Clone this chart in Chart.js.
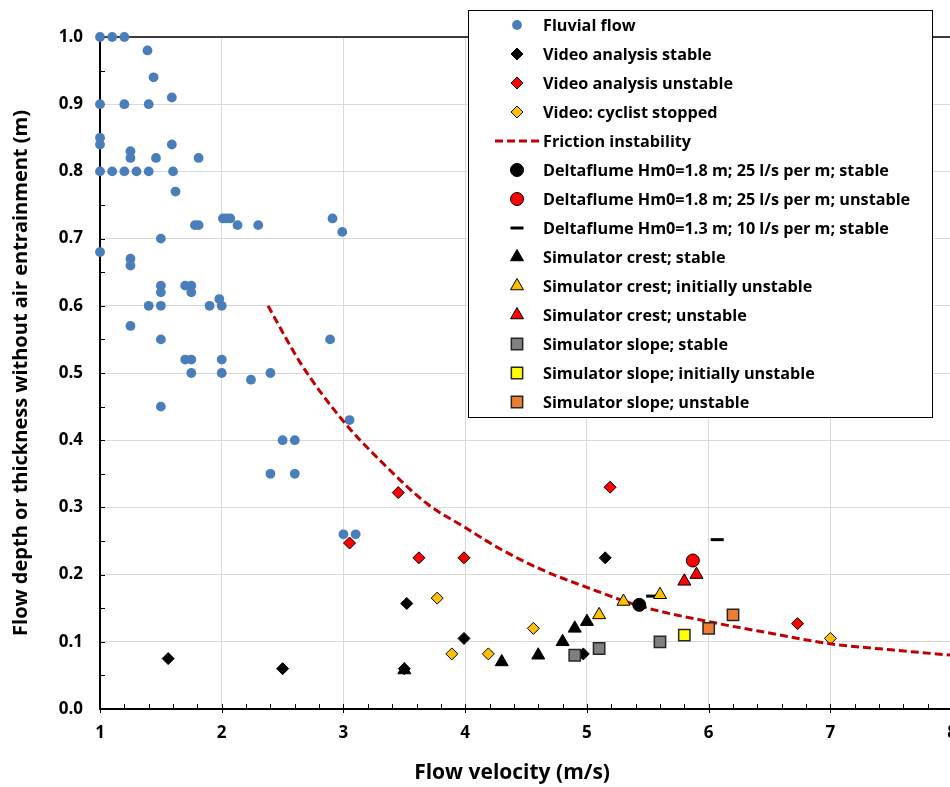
<!DOCTYPE html>
<html>
<head>
<meta charset="utf-8">
<script src="https://cdn.jsdelivr.net/npm/chart.js@4.4.1/dist/chart.umd.min.js"></script>
<style>
  html, body { margin: 0; padding: 0; overflow: hidden; background: #fff; }
  #wrap { width: 971px; height: 787px; }
</style>
</head>
<body>
<div id="wrap"><canvas id="chart"></canvas></div>
<script>
// values (flow velocity in m/s, depth in m)
const fluvialX = [1.0,1.1,1.2,1.39,1.44,1.59,1.0,1.2,1.4,1.0,1.0,1.25,1.25,1.46,1.59,1.81,1.0,1.1,1.2,1.3,1.4,1.6,1.62,1.78,1.81,2.01,2.04,2.07,2.13,2.30,1.5,1.0,1.25,1.25,1.5,1.5,1.70,1.75,1.75,1.98,1.40,1.50,1.90,2.0,1.25,1.5,1.70,1.75,2.0,1.75,2.0,2.24,2.40,1.5,2.91,2.99,2.89,3.05,2.50,2.60,2.40,2.60,3.0,3.10];
const fluvialY = [1.0,1.0,1.0,0.98,0.94,0.91,0.9,0.9,0.9,0.85,0.84,0.83,0.82,0.82,0.84,0.82,0.8,0.8,0.8,0.8,0.8,0.8,0.77,0.72,0.72,0.73,0.73,0.73,0.72,0.72,0.70,0.68,0.67,0.66,0.63,0.62,0.63,0.63,0.62,0.61,0.60,0.60,0.60,0.60,0.57,0.55,0.52,0.52,0.52,0.50,0.50,0.49,0.50,0.45,0.73,0.71,0.55,0.43,0.40,0.40,0.35,0.35,0.26,0.26];

const videoStableX = [1.56, 2.50, 3.50, 3.52, 3.99, 4.97, 5.15];
const videoStableY = [0.075, 0.06, 0.06, 0.157, 0.105, 0.082, 0.225];
const videoUnstableX = [3.05, 3.45, 3.62, 3.99, 5.19, 6.73];
const videoUnstableY = [0.247, 0.322, 0.225, 0.225, 0.33, 0.127];
const cyclistX = [3.77, 3.89, 4.19, 4.56, 7.0];
const cyclistY = [0.165, 0.082, 0.082, 0.12, 0.105];

const frictionX = [2.38, 2.65, 3.0, 3.3, 3.69, 4.0, 4.27, 4.62, 5.0, 5.44, 6.0, 6.5, 7.0, 7.5, 8.0];
const frictionY = [0.60, 0.514, 0.428, 0.37, 0.305, 0.27, 0.24, 0.208, 0.181, 0.153, 0.13, 0.113, 0.097, 0.088, 0.08];

const delta18StableX = [5.43];
const delta18StableY = [0.155];
const delta18UnstableX = [5.87];
const delta18UnstableY = [0.221];
const delta13StableX = [5.54, 6.07];
const delta13StableY = [0.168, 0.252];

const crestStableX = [3.50, 4.30, 4.60, 4.80, 4.90, 5.00];
const crestStableY = [0.058, 0.07, 0.08, 0.10, 0.12, 0.13];
const crestInitX = [5.10, 5.30, 5.60];
const crestInitY = [0.14, 0.16, 0.17];
const crestUnstableX = [5.80, 5.90];
const crestUnstableY = [0.19, 0.20];

const slopeStableX = [4.90, 5.10, 5.60];
const slopeStableY = [0.08, 0.09, 0.10];
const slopeInitX = [5.80];
const slopeInitY = [0.11];
const slopeUnstableX = [6.00, 6.20];
const slopeUnstableY = [0.12, 0.14];

const xTitle = 'Flow velocity (m/s)';
const yTitle = 'Flow depth or thickness without air entrainment (m)';

const FONT = '"Open Sans", Lato, sans-serif';

function pts(xs, ys) {
    return xs.map((x, i) => ({ x: x, y: ys[i] }));
}

function markers(label, xs, ys, style, fill, radius, border, borderWidth) {
    return {
        label: label,
        data: pts(xs, ys),
        pointStyle: style,
        pointRadius: radius,
        pointHoverRadius: radius,
        backgroundColor: fill,
        borderColor: border,
        pointBorderWidth: borderWidth,
        borderWidth: borderWidth,
        showLine: false,
        clip: false
    };
}

const datasets = [
    markers('Fluvial flow', fluvialX, fluvialY, 'circle', '#4a7ebb', 4.9, '#4a7ebb', 0),
    markers('Video analysis stable', videoStableX, videoStableY, 'rectRot', '#000000', 6, '#000000', 1),
    markers('Video analysis unstable', videoUnstableX, videoUnstableY, 'rectRot', '#ff0000', 6, '#000000', 1),
    markers('Video: cyclist stopped', cyclistX, cyclistY, 'rectRot', '#ffc000', 6, '#000000', 1),
    {
        label: 'Friction instability',
        data: pts(frictionX, frictionY),
        showLine: true,
        borderColor: '#c00000',
        borderWidth: 3,
        borderDash: [8, 4],
        pointRadius: 0,
        cubicInterpolationMode: 'monotone',
        fill: false,
        clip: false
    },
    markers('Deltaflume Hm0=1.8 m; 25 l/s per m; stable', delta18StableX, delta18StableY, 'circle', '#000000', 6.5, '#000000', 1),
    markers('Deltaflume Hm0=1.8 m; 25 l/s per m; unstable', delta18UnstableX, delta18UnstableY, 'circle', '#ff0000', 6.5, '#000000', 1),
    markers('Deltaflume Hm0=1.3 m; 10 l/s per m; stable', delta13StableX, delta13StableY, 'line', '#000000', 6.5, '#000000', 3),
    markers('Simulator crest; stable', crestStableX, crestStableY, 'triangle', '#000000', 7.5, '#000000', 1),
    markers('Simulator crest; initially unstable', crestInitX, crestInitY, 'triangle', '#ffc000', 7.5, '#000000', 1),
    markers('Simulator crest; unstable', crestUnstableX, crestUnstableY, 'triangle', '#ff0000', 7.5, '#000000', 1),
    markers('Simulator slope; stable', slopeStableX, slopeStableY, 'rect', '#808080', 8, '#262626', 1.5),
    markers('Simulator slope; initially unstable', slopeInitX, slopeInitY, 'rect', '#ffff00', 8, '#262626', 1.5),
    markers('Simulator slope; unstable', slopeUnstableX, slopeUnstableY, 'rect', '#ed7d31', 8, '#262626', 1.5)
];
// later series on top, like the spreadsheet
datasets.forEach((d, i) => { d.order = -i; });

// top frame line, small inside ticks and the x title
const axisDecor = {
    id: 'axisDecor',
    beforeDatasetsDraw(chart) {
        const { ctx, chartArea: a, scales } = chart;
        ctx.save();
        ctx.strokeStyle = '#000';
        ctx.lineWidth = 1.5;
        ctx.beginPath();
        ctx.moveTo(a.left, a.top);
        ctx.lineTo(a.right, a.top);
        ctx.stroke();
        ctx.lineWidth = 1;
        ctx.beginPath();
        for (let k = 0; k <= 20; k++) {
            const y = Math.round(scales.y.getPixelForValue(k * 0.05)) + 0.5;
            ctx.moveTo(a.left, y);
            ctx.lineTo(a.left + 5, y);
        }
        for (let k = 0; k <= 35; k++) {
            const x = Math.round(scales.x.getPixelForValue(1 + k * 0.2)) + 0.5;
            ctx.moveTo(x, a.bottom);
            ctx.lineTo(x, a.bottom - 5);
            if (k % 5 === 0) {
                ctx.moveTo(x, a.bottom);
                ctx.lineTo(x, a.bottom + 4);
            }
        }
        ctx.stroke();
        // x title sits a bit left of the plot centre in the original
        ctx.fillStyle = '#000';
        ctx.font = 'bold 21px ' + FONT;
        ctx.textAlign = 'center';
        ctx.textBaseline = 'middle';
        ctx.fillText(xTitle, (a.left + a.right) / 2 - 14, a.bottom + 64);
        ctx.restore();
    }
};

// boxed legend inside the plot, top right
const boxLegend = {
    id: 'boxLegend',
    afterDatasetsDraw(chart) {
        const ctx = chart.ctx;
        const left = 468, top = 10, right = 932, bottom = 417;
        ctx.save();
        ctx.fillStyle = '#fff';
        ctx.fillRect(left, top, right - left, bottom - top);
        ctx.strokeStyle = '#000';
        ctx.lineWidth = 1;
        ctx.strokeRect(left + 0.5, top + 0.5, right - left, bottom - top);
        ctx.font = 'bold 16.2px ' + FONT;
        ctx.textBaseline = 'middle';
        chart.data.datasets.forEach((d, i) => {
            const y = top + 15 + i * 29;
            if (d.showLine) {
                ctx.strokeStyle = d.borderColor;
                ctx.lineWidth = d.borderWidth;
                ctx.setLineDash(d.borderDash);
                ctx.beginPath();
                ctx.moveTo(495, y);
                ctx.lineTo(540, y);
                ctx.stroke();
                ctx.setLineDash([]);
            } else {
                ctx.fillStyle = d.backgroundColor;
                ctx.strokeStyle = d.borderColor;
                ctx.lineWidth = d.pointBorderWidth;
                Chart.helpers.drawPoint(ctx, {
                    pointStyle: d.pointStyle,
                    radius: d.pointRadius,
                    borderWidth: d.pointBorderWidth,
                    rotation: 0
                }, 517, y);
            }
            ctx.fillStyle = '#000';
            ctx.fillText(d.label, 543, y + 1.5);
        });
        ctx.restore();
    }
};

new Chart(document.getElementById('chart'), {
    type: 'scatter',
    data: { datasets: datasets },
    plugins: [axisDecor, boxLegend],
    options: {
        responsive: true,
        maintainAspectRatio: false,
        animation: false,
        devicePixelRatio: 1,
        layout: { padding: { left: 0, top: 37, right: 15, bottom: 0 } },
        plugins: {
            legend: { display: false },
            tooltip: { enabled: false }
        },
        scales: {
            x: {
                type: 'linear',
                min: 1,
                max: 8,
                afterFit: s => { s.height = 78; },
                ticks: {
                    stepSize: 1,
                    padding: 14,
                    color: '#000',
                    font: { family: FONT, size: 17, weight: 'bold' }
                },
                grid: { color: '#d9d9d9', lineWidth: 1, drawTicks: false },
                border: { color: '#000', width: 2 },
                title: { display: false, text: xTitle }
            },
            y: {
                type: 'linear',
                min: 0,
                max: 1,
                afterFit: s => { s.width = 100; },
                ticks: {
                    stepSize: 0.1,
                    padding: 17,
                    color: '#000',
                    font: { family: FONT, size: 17, weight: 'bold' },
                    callback: v => v.toFixed(1)
                },
                grid: { color: '#d9d9d9', lineWidth: 1, drawTicks: false },
                border: { color: '#000', width: 2 },
                title: {
                    display: true,
                    text: yTitle,
                    color: '#000',
                    font: { family: FONT, size: 20, weight: 'bold' },
                    padding: { top: 9, bottom: 0 }
                }
            }
        }
    }
});
</script>
</body>
</html>
